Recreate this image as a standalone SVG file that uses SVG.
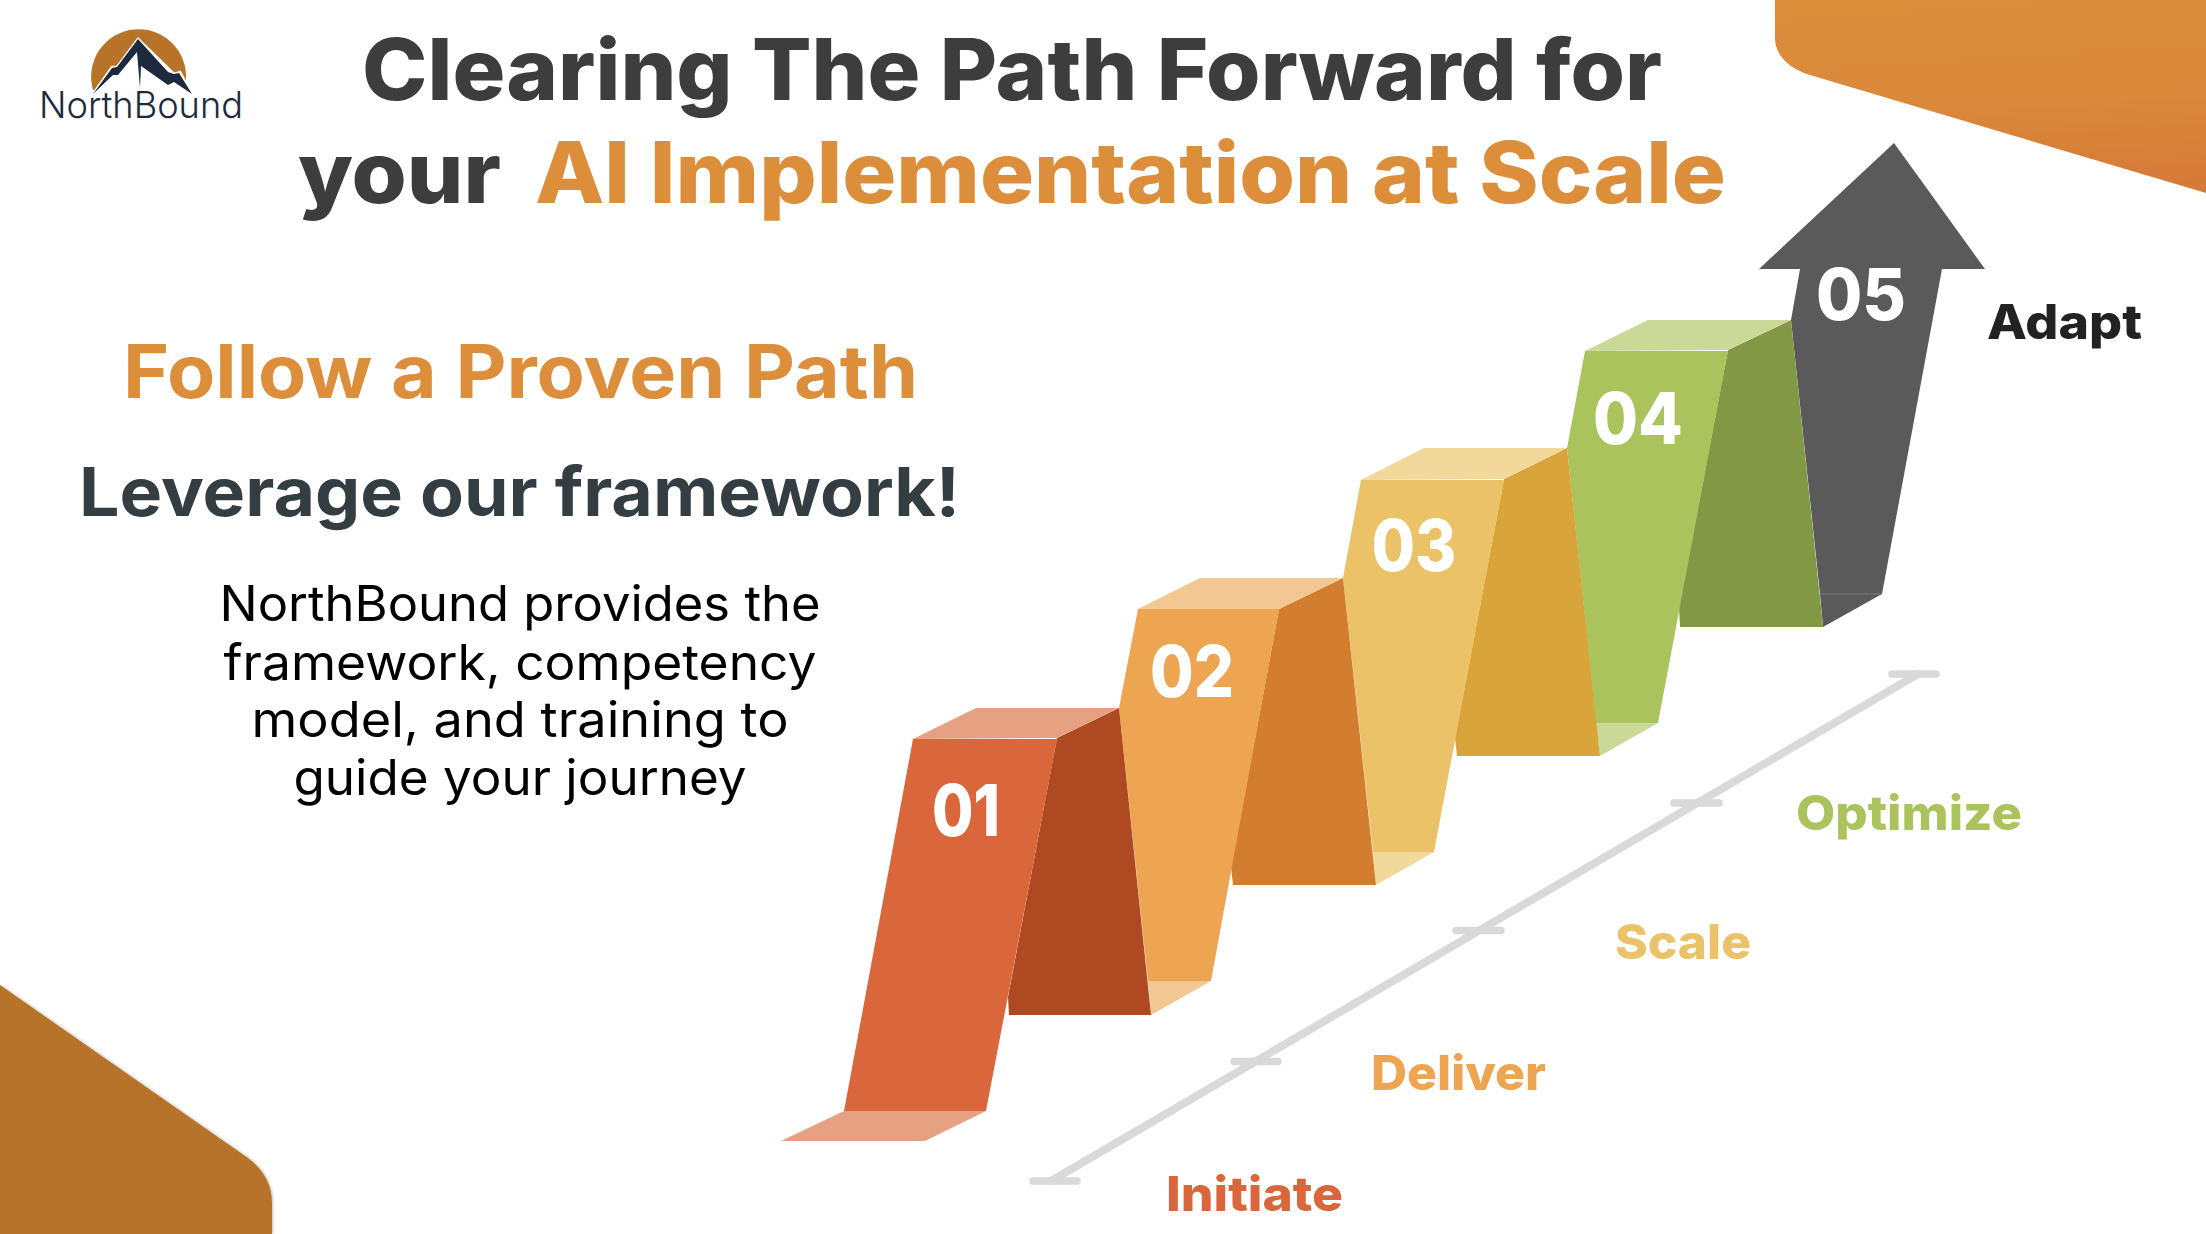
<svg xmlns="http://www.w3.org/2000/svg" width="2206" height="1234" viewBox="0 0 2206 1234">
<defs>
<linearGradient id="g1" x1="0.45" y1="0" x2="0.6" y2="1"><stop offset="0" stop-color="#DC8E3B"/><stop offset="0.5" stop-color="#DA893A"/><stop offset="1" stop-color="#D67A38"/></linearGradient>
<filter id="sh" x="-5%" y="-5%" width="110%" height="110%"><feDropShadow dx="1" dy="0" stdDeviation="1.5" flood-color="#000" flood-opacity="0.25"/></filter>
</defs>
<style>
text{font-family:"Inter","Liberation Sans",sans-serif;font-weight:800}
.num{fill:#fff;font-size:72px}
.lbl{font-size:48px}
.body{font-weight:400;font-size:49px;fill:#000;text-anchor:middle}
.axis{stroke:#D9D9D9;fill:none;stroke-linecap:round}
</style>
<rect width="2206" height="1234" fill="#fff"/>
<path d="M1775 0V38C1775 56 1790 69 1810 75L2206 193V0Z" fill="url(#g1)"/>
<path d="M0 985L248 1158C264 1170 272 1185 272 1203V1234H0Z" fill="#B87329" filter="url(#sh)"/>
<g id="logo">
<path d="M93 90A47.500 47.500 0 1 1 186 80Z" fill="#B87329"/>
<path d="M93 94L112 67L117 67L138 39L174 74L180 72L192 94Z" fill="#fff" stroke="#fff" stroke-width="2.500"/>
<path d="M93 94L112 68L117 67L138 39L168 72L174 74L179 73L192 94L174 82L168 85L141 66L140 88L137 52L118 75L113 75Z" fill="#1D2A3D"/>
<text x="39" y="118" font-size="37" style="font-weight:300" fill="#1D2A3D" textLength="204" lengthAdjust="spacingAndGlyphs">NorthBound</text>
</g>
<g id="title">
<text x="362" y="100" font-size="85" fill="#3D3D3D" textLength="1300" lengthAdjust="spacingAndGlyphs">Clearing The Path Forward for</text>
<text x="298" y="203" font-size="85" fill="#3D3D3D" textLength="203" lengthAdjust="spacingAndGlyphs">your</text>
<text x="535" y="203" font-size="85" fill="#DC8E3B" textLength="1191" lengthAdjust="spacingAndGlyphs">AI Implementation at Scale</text>
</g>
<g id="intro">
<text x="123" y="398" font-size="74" style="font-weight:700" fill="#DC8E3B" textLength="795" lengthAdjust="spacingAndGlyphs">Follow a Proven Path</text>
<text x="79" y="516" font-size="67" style="font-weight:700" fill="#343D42" textLength="881" lengthAdjust="spacingAndGlyphs">Leverage our framework!</text>
<text class="body" x="520" y="621" textLength="601" lengthAdjust="spacingAndGlyphs">NorthBound provides the</text>
<text class="body" x="520" y="680" textLength="593" lengthAdjust="spacingAndGlyphs">framework, competency</text>
<text class="body" x="520" y="737" textLength="537" lengthAdjust="spacingAndGlyphs">model, and training to</text>
<text class="body" x="520" y="795" textLength="453" lengthAdjust="spacingAndGlyphs">guide your journey</text>
</g>
<g id="connectors">
<path class="axis" stroke-width="8" d="M1051 1181L1918 674"/>
<path class="axis" stroke-width="7.5" d="M1033 1181H1077M1234 1061.500H1278M1456 930.500H1501M1674 803H1719M1892 674H1936"/>
</g>
<g id="step5">
<path d="M1820 594H1882L1823 627Z" fill="#5A5A5A"/>
<path d="M1894 143L1985 269H1942L1882 594H1820L1791 320L1800 269H1759Z" fill="#5A5A5A"/>
<path d="M1820 594H1882" stroke="#7A7A7A" stroke-width="1" fill="none"/>
<text class="num" x="1861" y="320" text-anchor="middle" textLength="90" lengthAdjust="spacingAndGlyphs">05</text>
</g>
<g id="step4">
<path d="M1596 723H1658L1600 756Z" fill="#CAD998"/>
<path d="M1728 350L1791 320L1823 627H1680L1679 607Z" fill="#829845"/>
<path d="M1585 351L1648 320H1791L1728 350Z" fill="#CAD998"/>
<path d="M1585 351H1728L1658 723H1596L1567 448Z" fill="#ABC35D"/>
<text class="num" x="1638" y="444" text-anchor="middle" textLength="90" lengthAdjust="spacingAndGlyphs">04</text>
</g>
<g id="step3">
<path d="M1373 852H1434L1376 885Z" fill="#F3D89C"/>
<path d="M1504 479L1567 448L1600 756H1457L1455 738Z" fill="#D9A43A"/>
<path d="M1361 480L1424 448H1567L1504 479Z" fill="#F3D89C"/>
<path d="M1361 480H1504L1434 852H1373L1343 578Z" fill="#EBC267"/>
<text class="num" x="1414" y="571" text-anchor="middle" textLength="85" lengthAdjust="spacingAndGlyphs">03</text>
</g>
<g id="step2">
<path d="M1148 981H1211L1151 1015Z" fill="#F3C792"/>
<path d="M1279 609L1343 578L1376 885H1233L1231 867Z" fill="#D37E2F"/>
<path d="M1138 609L1200 578H1343L1279 609Z" fill="#F3C792"/>
<path d="M1138 609H1279L1211 981H1148L1119 708Z" fill="#EDA552"/>
<text class="num" x="1192" y="697" text-anchor="middle" textLength="84" lengthAdjust="spacingAndGlyphs">02</text>
</g>
<g id="step1">
<path d="M844 1111H986L925 1141H781Z" fill="#E6A183"/>
<path d="M1057 738L1119 708L1151 1015H1009L1008 997Z" fill="#AE4922"/>
<path d="M913 739L976 708H1119L1057 738Z" fill="#E6A183"/>
<path d="M913 739H1057L986 1111H844Z" fill="#DA673B"/>
<text class="num" x="966" y="836" text-anchor="middle" textLength="68" lengthAdjust="spacingAndGlyphs">01</text>
</g>
<g id="labels">
<text class="lbl" x="1166" y="1211" fill="#DA673B" textLength="177" lengthAdjust="spacingAndGlyphs">Initiate</text>
<text class="lbl" x="1371" y="1090" fill="#EDA552" textLength="175" lengthAdjust="spacingAndGlyphs">Deliver</text>
<text class="lbl" x="1615" y="959" fill="#EBC267" textLength="136" lengthAdjust="spacingAndGlyphs">Scale</text>
<text class="lbl" x="1796" y="830" fill="#ABC35D" textLength="226" lengthAdjust="spacingAndGlyphs">Optimize</text>
<text class="lbl" x="1987" y="339" fill="#222" textLength="155" lengthAdjust="spacingAndGlyphs">Adapt</text>
</g>
</svg>
